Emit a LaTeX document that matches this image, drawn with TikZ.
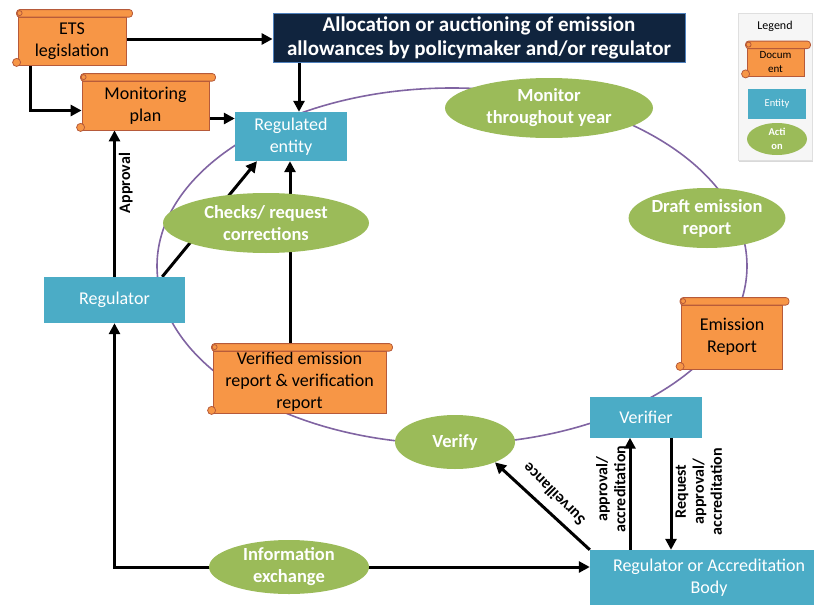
\documentclass[tikz,border=0pt]{standalone}
\usepackage{fontspec}
\setmainfont{Carlito}
\usetikzlibrary{arrows.meta,shapes.geometric,shadows}
\definecolor{docfill}{HTML}{F79646}
\definecolor{docline}{HTML}{B65A3A}
\definecolor{entfill}{HTML}{4BACC6}
\definecolor{actfill}{HTML}{9BBB59}
\definecolor{cyc}{HTML}{8064A2}
\definecolor{navy}{HTML}{10243E}
\definecolor{navyline}{HTML}{4F81BD}
\pgfdeclarelayer{bg}
\pgfsetlayers{bg,main}
\tikzset{
  doc/.style={draw=docline, line width=0.8pt, fill=docfill, inner sep=1pt, align=center, font=\fontsize{18}{22}\selectfont},
  ent/.style={fill=entfill, text=white, align=center, inner sep=1pt, font=\fontsize{18}{22}\selectfont},
  act/.style={ellipse, fill=actfill, text=white, align=center, inner sep=0pt, font=\bfseries\fontsize{18.5}{22}\selectfont},
  arr/.style={line width=3pt, -{Triangle[length=11pt,width=11pt]}},
  arrboth/.style={line width=3pt, {Triangle[length=11pt,width=11pt]}-{Triangle[length=11pt,width=11pt]}},
  lbl/.style={font=\bfseries\fontsize{16}{18}\selectfont, align=center, inner sep=3pt},
  rollline/.style={draw=docline, line width=0.8pt, fill=docfill},
}
\newcommand\scrolldeco[1]{%
  \draw[rollline, rounded corners=3pt] ([xshift=-1pt,yshift=7pt]#1.north west) rectangle ([xshift=6pt,yshift=-0.5pt]#1.north east);
  \draw[rollline] ([xshift=2pt,yshift=3.5pt]#1.north west) circle (2.5pt);
  \draw[rollline] ([xshift=-1pt,yshift=3pt]#1.south west) circle (4pt);
}
\begin{document}
\begin{tikzpicture}[x=1pt,y=-1pt]
\useasboundingbox (0,0) rectangle (814,605);

% legend
\node[fill=gray!7, draw=gray!25, drop shadow={opacity=0.3,shadow xshift=1pt,shadow yshift=-2pt}, minimum width=74, minimum height=147, inner sep=0pt] (legend) at (775,86.5) {};
\node[font=\fontsize{12}{14}\selectfont] (legtitle) at (775,26) {Legend};
\node[doc, minimum width=57, minimum height=28, font=\fontsize{11}{14}\selectfont] (legdoc) at (775.5,62.5) {Docum\\ent};
\scrolldeco{legdoc}
\node[ent, minimum width=58, minimum height=30, font=\fontsize{10.5}{13}\selectfont] (legent) at (777,104) {Entity};
\node[act, minimum width=60, minimum height=32, font=\bfseries\fontsize{10.5}{14}\selectfont] (legact) at (777,139) {Acti\\on};

% documents
\node[doc, minimum width=108, minimum height=48] (ets) at (72,41) {ETS\\legislation};
\scrolldeco{ets}
\node[doc, minimum width=127, minimum height=49] (mon) at (145.5,105.5) {Monitoring\\plan};
\scrolldeco{mon}
\node[doc, minimum width=101, minimum height=64] (emrep) at (732,337) {Emission\\Report};
\scrolldeco{emrep}
\node[doc, minimum width=173, minimum height=62] (verrep) at (299.5,382) {Verified emission\\report \& verification\\report};
\scrolldeco{verrep}

% entities
\node[fill=navy, draw=navyline, line width=0.8pt, text=white, align=center, inner sep=1pt, font=\bfseries\fontsize{21}{24}\selectfont, minimum width=412, minimum height=49] (alloc) at (479,37.5) {Allocation or auctioning of emission\\allowances by policymaker and/or regulator};
\node[ent, minimum width=112, minimum height=49] (regent) at (291,136.5) {Regulated\\entity};
\node[ent, minimum width=141, minimum height=46] (regulator) at (114.5,300) {Regulator};
\node[ent, minimum width=112, minimum height=41] (verifier) at (646,417) {Verifier};
\node[ent, minimum width=238, minimum height=55] (rab) at (709,577.5) {Regulator or Accreditation\\Body};

% actions
\node[act, minimum width=208, minimum height=60] (monitor) at (549,108) {Monitor\\throughout year};
\node[act, minimum width=156, minimum height=60] (draft) at (707,218) {Draft emission\\report};
\node[act, minimum width=120, minimum height=54] (verify) at (455,442) {Verify};
\node[act, minimum width=206, minimum height=60] (checks) at (266,223) {Checks/ request\\corrections};
\node[act, minimum width=160, minimum height=54] (info) at (289,567) {Information\\exchange};

\begin{pgfonlayer}{bg}
\draw[cyc, line width=1.6pt] (452,266) ellipse [x radius=295, y radius=178];
\draw[arr] ([yshift=2pt]ets.east) -- ([yshift=2pt]ets.east -| alloc.west);
\draw[arr] ([xshift=-42pt]ets.south) |- ([yshift=-5pt]mon.west);
\draw[arr] ([yshift=-13pt]mon.east) -- ([yshift=-13pt]mon.east -| regent.west);
\draw[arr] ([xshift=-180pt]alloc.south) -- ([xshift=-180pt]alloc.south |- regent.north);
\draw[arr] (regulator.north) -- (regulator.north |- mon.south)
  node[lbl, pos=0.64, rotate=90, anchor=north] {Approval};
\draw[arr] ([xshift=-23pt]regulator.north east) -- ([xshift=-34pt]regent.south);
\draw[arr] ([xshift=-9.5pt]verrep.north) -- ([xshift=-9.5pt]verrep.north |- regent.south);
\draw[arr] ([xshift=-79pt]rab.north) -- ([xshift=-79pt]rab.north |- verifier.south)
  node[lbl, pos=0.54, rotate=90, anchor=south] {approval/\\accreditation};
\draw[arr] ([xshift=25pt]verifier.south) -- ([xshift=25pt]verifier.south |- rab.north)
  node[lbl, pos=0.48, rotate=90, anchor=north] {Request\\approval/\\accreditation};
\draw[arr] (rab.north west) -- (verify.-27)
  node[lbl, pos=0.5, rotate=135, anchor=north, inner sep=9pt] {Surveillance};
\draw[arrboth] (regulator.south) -- (regulator.south |- info.center) -- (info.center -| rab.west);
\end{pgfonlayer}
\end{tikzpicture}
\end{document}
